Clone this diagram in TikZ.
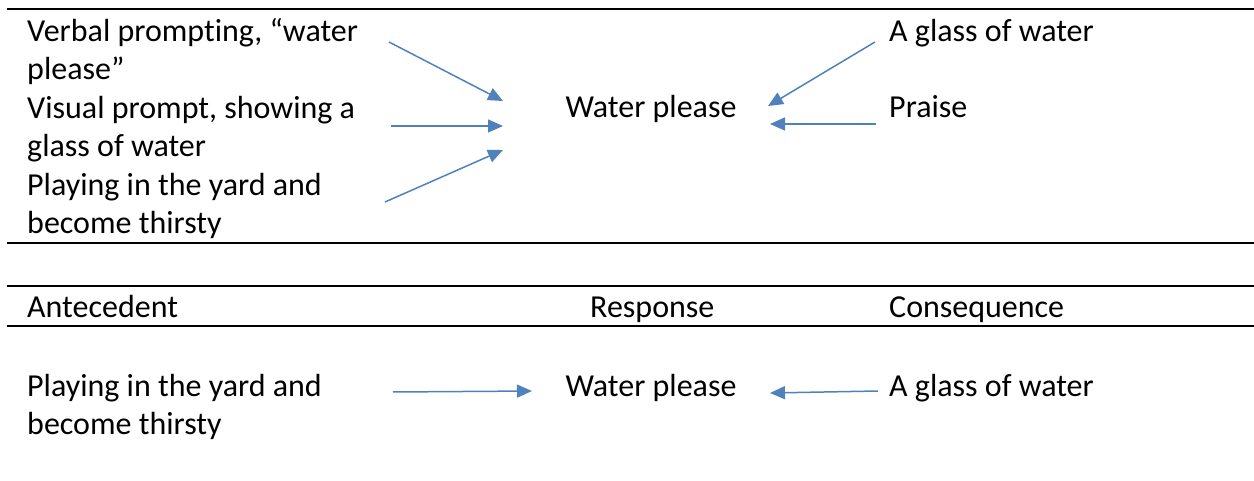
\documentclass[tikz,border=0pt]{standalone}
\usepackage{fontspec}
\setmainfont[Ligatures=NoCommon]{Carlito}
\usetikzlibrary{arrows.meta}
\definecolor{arrblue}{HTML}{4F81BD}

\begin{document}
\begin{tikzpicture}[x=1pt,y=-1pt,
	txt/.style={inner sep=0pt,align=left,font=\fontsize{32}{38.5}\selectfont},
	arr/.style={arrblue,line width=1.5pt,-{Triangle[length=15pt,width=13pt]}},
	rule/.style={line width=2pt}]
	\useasboundingbox (0,0) rectangle (1254,481);
				\draw[rule] (7,9) -- (1254,9);
				\draw[rule] (7,243) -- (1254,243);
				\draw[rule] (7,286) -- (1254,286);
				\draw[rule] (7,326) -- (1254,326);
            	\node[txt,anchor=north west] (v1) at (27,14) {\strut Verbal prompting, “water\\\strut please”};
            	\node[txt,anchor=north west] (v2) at (27,91) {\strut Visual prompt, showing a\\\strut glass of water};
            	\node[txt,anchor=north west] (v3) at (27,168) {\strut Playing in the yard and\\\strut become thirsty};
            	\node[txt,anchor=base] (r1) at (651,117.5) {Water please};
            	\node[txt,anchor=base west] (c1) at (889,41.5) {A glass of water};
            	\node[txt,anchor=base west] (c2) at (889,118) {Praise};
            	\node[txt,anchor=base west] (hA) at (27,318) {Antecedent};
            	\node[txt,anchor=base west] (hR) at (590,318) {Response};
            	\node[txt,anchor=base west] (hC) at (889,318) {Consequence};
            	\node[txt,anchor=north west] (b1) at (27,369) {\strut Playing in the yard and\\\strut become thirsty};
            	\node[txt,anchor=base] (b2) at (651,396) {Water please};
            	\node[txt,anchor=base west] (b3) at (889,396) {A glass of water};
            	\draw[arr] ([shift={(362,28)}]v1.north west) -- ([shift={(-148,-16.5)}]r1.base);
            	\draw[arr] ([shift={(364,35)}]v2.north west) -- ([shift={(-148,8.5)}]r1.base);
            	\draw[arr] ([shift={(358,34)}]v3.north west) -- ([shift={(-148,32.5)}]r1.base);
            	\draw[arr] ([shift={(-14,0.5)}]c1.base west) -- ([shift={(117,-11.5)}]r1.base);
            	\draw[arr] ([shift={(-13,6)}]c2.base west) -- ([shift={(119,6.5)}]r1.base);
            	\draw[arr] ([shift={(366,23)}]b1.north west) -- ([shift={(-119,-5)}]b2.base);
            	\draw[arr] ([shift={(-11,-5)}]b3.base west) -- ([shift={(119,-3)}]b2.base);
\end{tikzpicture}
\end{document}
